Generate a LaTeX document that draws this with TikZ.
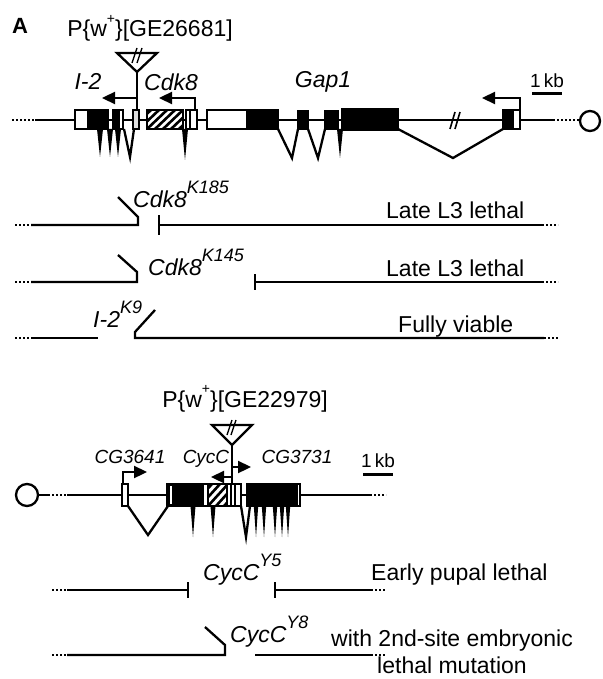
\documentclass[tikz,border=0pt]{standalone}
\usepackage{fontspec}
\setmainfont{Liberation Sans}
\usetikzlibrary{arrows.meta}

\newcommand\upscript[1]{\raisebox{0.6em}{\fontsize{18}{20}\selectfont #1}}
\newcommand\hatchbox[4]{%
  \begin{scope}
    \clip (#1,#2) rectangle (#3,#4);
    \fill[white] (#1,#2) rectangle (#3,#4);
    \foreach \k in {-24,-16,...,48}
      \draw[line width=2.6pt] ({#1+\k},#4) -- ({#1+\k+20},#2);
  \end{scope}
  \draw[exon] (#1,#2) rectangle (#3,#4);}
\newcommand\spike[4][3]{\fill ({#2-#1},#3) -- ({#2+#1},#3) -- (#2,#4) -- cycle;}

\begin{document}
\begin{tikzpicture}[x=1pt,y=-1pt,line join=miter,
  gene/.style={line width=2.3pt},
  dots/.style={line width=2.3pt,dash pattern=on 2pt off 2pt},
  exon/.style={draw,line width=1.8pt},
  txt/.style={inner sep=0pt,font=\fontsize{23}{27}\selectfont},
  gname/.style={inner sep=0pt,font=\fontsize{23}{27}\selectfont\itshape},
  small/.style={inner sep=0pt,font=\fontsize{19}{22}\selectfont},
  smallit/.style={inner sep=0pt,font=\fontsize{19}{22}\selectfont\itshape},
  tss/.style={line width=2.3pt,-{Triangle[length=13pt,width=12pt]}}]
  \useasboundingbox (0,0) rectangle (602,679);

  % top locus: I-2, Cdk8, Gap1
  \node[txt,font=\fontsize{22}{26}\selectfont\bfseries] (panelA) at (20,26) {A};
  \node[txt,anchor=base] (pins1) at (150,37) {P\{w\raisebox{0.6em}{\fontsize{14}{16}\selectfont +}\}[GE26681]};
  \draw[dots] (12,120) -- (35,120);
  \draw[gene] (35,120) -- (553,120);
  \draw[dots] (553,120) -- (580,120);
  \draw[gene,fill=white] (590,121) circle (10);
  \draw[line width=1.6pt] (450,129) -- (455,112) (455,129) -- (460,112);
  % introns
  \spike{100}{129}{157} \spike{110}{129}{157} \spike{118}{129}{157}
  \draw[gene] (124,129) -- (130,157) -- (134,129);
  \spike{185}{129}{160}
  \draw[gene] (278,129) -- (292,158) -- (298,129);
  \draw[gene] (308,129) -- (318,158) -- (325,129);
  \spike{340}{129}{158}
  \draw[gene] (398,129) -- (453,158) -- (503,129);
  % exons
  \draw[exon,fill=white] (75,110) rectangle (88,129);
  \draw[exon,fill=black] (88,110) rectangle (108,129);
  \draw[exon,fill=black] (113,110) rectangle (119,129);
  \draw[exon,fill=white] (119,110) rectangle (123,129);
  \draw[exon,fill=gray!25] (133,110) rectangle (139,129);
  \hatchbox{147}{110}{183}{129}
  \draw[exon,fill=white] (186,110) rectangle (197,129);
  \draw[line width=1.2pt] (190,110) -- (190,129);
  \draw[exon,fill=white] (207,110) rectangle (247,129);
  \draw[exon,fill=black] (247,110) rectangle (278,129);
  \draw[exon,fill=black] (298,111) rectangle (308,129);
  \draw[exon,fill=black] (325,111) rectangle (338,129);
  \draw[exon,fill=black] (342,109) rectangle (398,130);
  \draw[exon,fill=black] (503,110) rectangle (513,129);
  \draw[exon,fill=white] (513,110) rectangle (520,129);
  % insertion and promoters
  \draw[gene,fill=white] (117,53) -- (157,53) -- (137,72) -- cycle;
  \draw[line width=1.4pt] (132,63) -- (137,48) (137,63) -- (142,48);
  \draw[gene] (137,72) -- (137,110);
  \draw[tss] (137,98) -- (102,98);
  \draw[tss] (195,110) -- (195,98) -- (159,98);
  \draw[tss] (520,110) -- (520,98) -- (482,98);
  \node[gname,anchor=base] (i2) at (88,90) {I-2};
  \node[gname,anchor=base] (cdk8) at (171,91) {Cdk8};
  \node[gname,anchor=base] (gap1) at (323,88) {Gap1};
  \node[small,anchor=base] (kb1) at (547,88) {1\,kb};
  \draw[line width=3pt] (532,94) -- (562,94);

  % Cdk8 and I-2 alleles
  \draw[dots] (15,225) -- (31,225);
  \draw[gene] (31,225) -- (138,225) -- (138,217) -- (118,197);
  \draw[gene] (159,215) -- (159,235) (159,225) -- (542,225);
  \draw[dots] (542,225) -- (558,225);
  \node[gname,anchor=base west] (k185) at (133,207) {Cdk8\upscript{K185}};
  \node[txt,anchor=base west] (ph1) at (386,218) {Late L3 lethal};

  \draw[dots] (15,282) -- (31,282);
  \draw[gene] (31,282) -- (137,282) -- (137,272) -- (118,255);
  \draw[gene] (255,274) -- (255,290) (255,282) -- (542,282);
  \draw[dots] (542,282) -- (558,282);
  \node[gname,anchor=base west] (k145) at (148,275) {Cdk8\upscript{K145}};
  \node[txt,anchor=base west] (ph2) at (386,276) {Late L3 lethal};

  \draw[dots] (15,338) -- (31,338);
  \draw[gene] (31,338) -- (98,338);
  \draw[gene] (155,310) -- (135,332) -- (135,338) -- (544,338);
  \draw[dots] (544,338) -- (558,338);
  \node[gname,anchor=base west] (k9) at (93,327) {I-2\upscript{K9}};
  \node[txt,anchor=base west] (ph3) at (398,332) {Fully viable};

  % bottom locus: CG3641, CycC, CG3731
  \node[txt,anchor=base] (pins2) at (245,407) {P\{w\raisebox{0.6em}{\fontsize{14}{16}\selectfont +}\}[GE22979]};
  \draw[gene,fill=white] (27,495) circle (11);
  \draw[gene] (38,495) -- (48,495);
  \draw[dots] (48,495) -- (67,495);
  \draw[gene] (67,495) -- (370,495);
  \draw[dots] (370,495) -- (386,495);
  % introns
  \draw[gene] (128,506) -- (148,535) -- (168,506);
  \spike[2.5]{193}{506}{537} \spike[2.5]{213}{506}{537}
  \draw[gene] (241,506) -- (246,537) -- (250,506);
  \foreach \x in {256,264,275,282,288} { \spike[2.2]{\x}{506}{537} }
  % exons
  \draw[exon,fill=white] (122,484) rectangle (128,506);
  \draw[exon,fill=black] (167,484) rectangle (203,506);
  \draw[line width=1.5pt,white] (171,486) -- (171,504);
  \draw[exon,fill=white] (203,484) rectangle (208,506);
  \hatchbox{208}{484}{227}{506}
  \draw[exon,fill=white] (227,484) rectangle (241,506);
  \foreach \x in {231,235} { \draw[line width=1.2pt] (\x,484) -- (\x,506); }
  \draw[exon,fill=black] (247,484) rectangle (268,506);
  \draw[exon,fill=black] (270,484) rectangle (297,506);
  \draw[exon,fill=white] (297,484) rectangle (300,506);
  % insertion and promoters
  \draw[gene,fill=white] (212,425) -- (252,425) -- (232,445) -- cycle;
  \draw[line width=1.4pt] (227,435) -- (232,420) (231,435) -- (236,420);
  \draw[gene] (232,445) -- (232,484);
  \draw[tss] (232,477) -- (211,477);
  \draw[tss] (232,467) -- (251,467);
  \draw[tss] (123,484) -- (123,472) -- (147,472);
  \node[smallit,anchor=base] (cg3641) at (130,463) {CG3641};
  \node[smallit,anchor=base] (cycc) at (206,463) {CycC};
  \node[smallit,anchor=base] (cg3731) at (297,463) {CG3731};
  \node[small,anchor=base] (kb2) at (378,467) {1\,kb};
  \draw[line width=3pt] (363,474) -- (393,474);

  % CycC alleles
  \draw[dots] (52,590) -- (67,590);
  \draw[gene] (67,590) -- (188,590) (188,582) -- (188,598);
  \draw[gene] (275,582) -- (275,598) (275,590) -- (371,590);
  \draw[dots] (371,590) -- (386,590);
  \node[gname,anchor=base west] (y5) at (203,580) {CycC\upscript{Y5}};
  \node[txt,anchor=base west] (ph4) at (371,580) {Early pupal lethal};

  \draw[dots] (52,655) -- (67,655);
  \draw[gene] (67,655) -- (225,655) -- (225,645) -- (205,627);
  \draw[gene] (255,655) -- (371,655);
  \draw[dots] (371,655) -- (386,655);
  \node[gname,anchor=base west] (y8) at (230,642) {CycC\upscript{Y8}};
  \node[txt,anchor=base] (ph5) at (452,646) {with 2nd-site embryonic};
  \node[txt,anchor=base] (ph5b) at (452,673) {lethal mutation};
\end{tikzpicture}
\end{document}
